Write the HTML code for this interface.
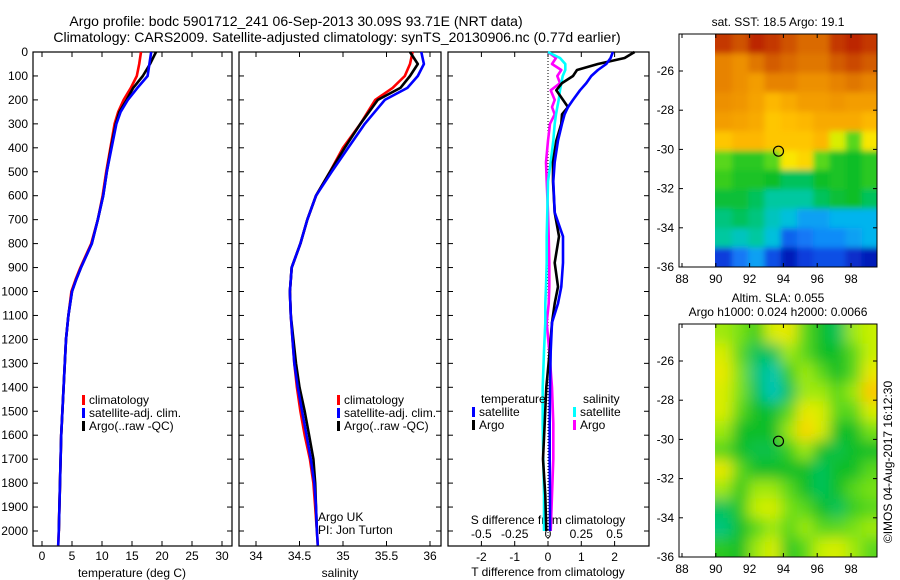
<!DOCTYPE html>
<html><head><meta charset="utf-8">
<style>
html,body{margin:0;padding:0;background:#fff;}
svg{display:block;font-family:"Liberation Sans",sans-serif;}
</style></head>
<body>
<svg id="chart" width="900" height="580" viewBox="0 0 900 580">
<defs>
<filter id="blurS" x="-10%" y="-10%" width="120%" height="120%"><feGaussianBlur stdDeviation="3"/></filter>
<filter id="blurL" x="-10%" y="-10%" width="120%" height="120%"><feGaussianBlur stdDeviation="7"/></filter>
<clipPath id="clipTop"><rect x="715" y="34" width="162" height="233"/></clipPath>
<clipPath id="clipBot"><rect x="715" y="324" width="162" height="233"/></clipPath>
</defs>
</svg>
<script>
// ---------- data ----------
const tDepths=[0,50,100,150,200,250,300,400,500,600,700,800,900,950,1000,1100,1200,1300,1400,1600,1800,2000,2060];
const tClim=[16.5,16.2,15.8,14.8,13.6,12.7,12.1,11.4,10.7,10.1,9.3,8.2,6.4,5.6,4.9,4.4,4.0,3.8,3.6,3.2,3.0,2.8,2.7];
const tSat=[18.2,17.9,17.6,15.9,14.3,13.1,12.4,11.6,10.8,10.2,9.3,8.3,6.5,5.7,5.0,4.4,4.0,3.8,3.6,3.2,3.0,2.8,2.7];
const tArgo=[19.0,18.0,16.8,15.2,14.1,12.9,12.3,11.5,10.8,10.2,9.3,8.3,6.5,5.7,5.0,4.4,4.0,3.8,3.6,3.2,3.0,2.8];
const sDepths=[0,50,100,150,200,300,400,500,600,700,800,900,1000,1100,1200,1300,1400,1500,1600,1700,1800,1900,2000,2060];
const sClim=[35.80,35.77,35.71,35.57,35.37,35.20,35.00,34.85,34.69,34.59,34.51,34.41,34.39,34.40,34.42,34.44,34.47,34.51,34.56,34.62,34.66,34.68,34.70,34.71];
const sSat=[35.90,35.93,35.86,35.74,35.48,35.25,35.06,34.87,34.69,34.59,34.51,34.41,34.39,34.40,34.42,34.44,34.48,34.53,34.58,34.63,34.67,34.69,34.70,34.71];
const sArgo=[35.77,35.86,35.77,35.66,35.40,35.20,35.02,34.85,34.69,34.59,34.51,34.41,34.39,34.40,34.43,34.46,34.50,34.56,34.61,34.66,34.68,34.69,34.70];
const dDepths=[0,25,50,75,100,130,160,200,230,260,300,370,460,540,670,770,880,980,1050,1130,1250,1400,1550,1700,1850,2000];
const dTSat=[1.95,1.88,1.75,1.5,1.3,1.15,0.96,0.75,0.6,0.5,0.42,0.3,0.2,0.16,0.2,0.45,0.45,0.4,0.3,0.12,0.08,0.06,0.05,0.05,0.06,0.06];
const dTArgo=[2.6,2.3,1.5,0.87,0.75,0.42,0.25,0.45,0.6,0.42,0.4,0.25,0.15,0.15,0.2,0.33,0.2,0.3,0.2,0.12,0.05,-0.05,-0.1,-0.15,-0.08,-0.05];
const dSSat=[0,0.09,0.13,0.13,0.11,0.1,0.09,0.08,0.07,0.06,0.05,0.04,0.02,0,-0.005,-0.01,-0.01,-0.015,-0.02,-0.02,-0.03,-0.04,-0.04,-0.035,-0.03,-0.03];
const dSArgo=[0,0.06,0.03,0.1,0.07,0.09,0.02,0.05,0.03,0.05,0.015,0,-0.015,-0.01,0,0.005,0.01,0.01,0.005,-0.01,0.01,0.03,0.04,0.04,0.03,0.02];
const depthTicks=[0,100,200,300,400,500,600,700,800,900,1000,1100,1200,1300,1400,1500,1600,1700,1800,1900,2000];
const tTicks=[0,5,10,15,20,25,30];
const sTicks=[34,34.5,35,35.5,36];
const dTTicks=[-2,-1,0,1,2];
const dSTicks=[-0.5,-0.25,0,0.25,0.5];
const dSTickLabels=["-0.5","-0.25","0","0.25","0.5"];
const mapLatTicks=[-26,-28,-30,-32,-34,-36];
const mapLonTicks=[88,90,92,94,96,98];
const argoLon=93.71, argoLat=-30.09;
const sstGrid=[
[0.88,0.85,0.9,0.88,0.85,0.82,0.82,0.88,0.9,0.88],
[0.78,0.76,0.8,0.84,0.82,0.8,0.8,0.84,0.86,0.84],
[0.78,0.76,0.74,0.78,0.78,0.76,0.76,0.78,0.8,0.78],
[0.76,0.75,0.73,0.7,0.72,0.74,0.74,0.75,0.74,0.74],
[0.74,0.73,0.72,0.68,0.69,0.7,0.72,0.72,0.72,0.7],
[0.68,0.7,0.7,0.68,0.68,0.68,0.7,0.6,0.5,0.64],
[0.5,0.47,0.47,0.5,0.64,0.66,0.5,0.46,0.45,0.47],
[0.48,0.46,0.46,0.45,0.42,0.42,0.45,0.46,0.45,0.47],
[0.44,0.44,0.42,0.38,0.38,0.38,0.42,0.44,0.45,0.42],
[0.4,0.42,0.4,0.36,0.34,0.3,0.3,0.32,0.32,0.32],
[0.38,0.36,0.38,0.34,0.24,0.26,0.28,0.28,0.3,0.32],
[0.2,0.26,0.3,0.22,0.16,0.2,0.22,0.22,0.18,0.16]];
const slaGrid=[
[0.55,0.52,0.48,0.6,0.62,0.5,0.45,0.42,0.55,0.58],
[0.6,0.5,0.42,0.42,0.55,0.5,0.45,0.45,0.5,0.58],
[0.62,0.52,0.4,0.37,0.48,0.55,0.5,0.45,0.5,0.62],
[0.6,0.52,0.42,0.36,0.42,0.55,0.55,0.5,0.55,0.68],
[0.6,0.5,0.45,0.44,0.5,0.62,0.6,0.5,0.5,0.6],
[0.55,0.45,0.45,0.45,0.55,0.66,0.6,0.45,0.45,0.52],
[0.5,0.45,0.43,0.43,0.48,0.55,0.45,0.43,0.45,0.45],
[0.62,0.5,0.45,0.45,0.45,0.45,0.42,0.45,0.45,0.5],
[0.55,0.47,0.55,0.55,0.5,0.45,0.42,0.45,0.5,0.52],
[0.42,0.47,0.58,0.6,0.52,0.5,0.45,0.42,0.48,0.5],
[0.4,0.45,0.5,0.55,0.5,0.55,0.5,0.5,0.52,0.55],
[0.47,0.45,0.55,0.6,0.47,0.5,0.58,0.6,0.55,0.5]];

// ---------- helpers ----------
const NS="http://www.w3.org/2000/svg";
const svg=document.getElementById('chart');
function el(tag,attrs,parent){const e=document.createElementNS(NS,tag);for(const k in attrs)e.setAttribute(k,attrs[k]);(parent||svg).appendChild(e);return e;}
function txt(x,y,s,size,anchor,parent){const t=el('text',{x:x,y:y,'font-size':size||12,'text-anchor':anchor||'start',fill:'#000'},parent);t.textContent=s;return t;}
const top0=52, bottom0=546;
const yD=d=>top0+d*0.2395;
function lin(d0,r0,d1,r1){return v=>r0+(v-d0)*(r1-r0)/(d1-d0);}

function panel(name,x0,x1){
  const g=el('g',{});
  
  
  el('rect',{x:x0,y:top0,width:x1-x0,height:bottom0-top0,fill:'#fff',stroke:'#000','stroke-width':1.2},g);
  return g;
}
function line(g,xs,ds,xf,color,name,w){
  let p='';for(let i=0;i<xs.length;i++)p+=(i?'L':'M')+xf(xs[i]).toFixed(1)+','+yD(ds[i]).toFixed(1);
  const e=el('path',{d:p,fill:'none',stroke:color,'stroke-width':w||2.6,'stroke-linejoin':'round'},g);
  
  
}
function depthTickMarks(g,x0,x1,labels){
  depthTicks.forEach(d=>{const y=yD(d);
    el('line',{x1:x0,y1:y,x2:x0+5,y2:y,stroke:'#000'},g);
    el('line',{x1:x1,y1:y,x2:x1-5,y2:y,stroke:'#000'},g);
    if(labels){txt(x0-5,y+4,String(d),12,'end',g);}
  });
}
function xTicks(g,vals,labs,xf,lblY){
  vals.forEach((v,i)=>{const x=xf(v);
    el('line',{x1:x,y1:top0,x2:x,y2:top0+5,stroke:'#000'},g);
    el('line',{x1:x,y1:bottom0,x2:x,y2:bottom0-5,stroke:'#000'},g);
    if(lblY)txt(x,lblY,labs[i],12,'middle',g);
  });
}
function legend(g,x,y,items){
  items.forEach((it,i)=>{
    const r=el('rect',{x:x,y:y+i*13-9,width:3,height:10,fill:it[0]},g);
    
    
    const t=txt(x+7,y+i*13,it[1],12,'start',g);
    
    
  });
}

// ---------- title ----------
const t1=txt(296,26,'Argo profile: bodc 5901712_241 06-Sep-2013 30.09S 93.71E (NRT data)',14,'middle');

const t2=txt(337,42,'Climatology: CARS2009. Satellite-adjusted climatology: synTS_20130906.nc (0.77d earlier)',14,'middle');


// ---------- panel 1: temperature ----------
const xT=lin(0,42,30,222);
const g1=panel('temperature-panel',33,232);
depthTickMarks(g1,33,232,true);
xTicks(g1,tTicks,tTicks.map(String),xT,560);
line(g1,tClim,tDepths,xT,'#f00','temperature-climatology-line');
line(g1,tArgo,tDepths.slice(0,tArgo.length),xT,'#000','temperature-argo-line');
line(g1,tSat,tDepths,xT,'#00f','temperature-satellite-line');
legend(g1,82,404,[['#f00','climatology','climatology'],['#00f','satellite-adj. clim.','satellite'],['#000','Argo(..raw -QC)','argo']]);
const xl1=txt(132,577,'temperature (deg C)',12,'middle',g1);

// ---------- panel 2: salinity ----------
const xS=lin(34,256,36,430);
const g2=panel('salinity-panel',239,441);
depthTickMarks(g2,239,441,false);
xTicks(g2,sTicks,sTicks.map(String),xS,560);
line(g2,sClim,sDepths,xS,'#f00','salinity-climatology-line');
line(g2,sArgo,sDepths.slice(0,sArgo.length),xS,'#000','salinity-argo-line');
line(g2,sSat,sDepths,xS,'#00f','salinity-satellite-line');
legend(g2,337,404,[['#f00','climatology','climatology'],['#00f','satellite-adj. clim.','satellite'],['#000','Argo(..raw -QC)','argo']]);
txt(318,521,'Argo UK',12,'start',g2);
txt(318,534,'PI: Jon Turton',12,'start',g2);
const xl2=txt(340,577,'salinity',12,'middle',g2);

// ---------- panel 3: differences ----------
const xDT=lin(0,548,1,581.3);
const xDS=lin(0,548,0.25,581.3);
const g3=panel('difference-panel',448,649);
depthTickMarks(g3,448,649,false);
xTicks(g3,dTTicks,dTTicks.map(String),xDT,561);
el('line',{x1:548,y1:top0,x2:548,y2:bottom0,stroke:'#000','stroke-dasharray':'1,2'},g3);
dSTicks.forEach((v,i)=>{txt(xDS(v),538,dSTickLabels[i],12,'middle',g3);});
txt(548,524,'S difference from climatology',12,'middle',g3);
line(g3,dSArgo,dDepths,xDS,'#f0f','salinity-argo-difference-line');
line(g3,dSSat,dDepths,xDS,'#0ff','salinity-satellite-difference-line');
line(g3,dTArgo,dDepths,xDT,'#000','temperature-argo-difference-line');
line(g3,dTSat,dDepths,xDT,'#00f','temperature-satellite-difference-line');
txt(481,403,'temperature',12,'start',g3);
txt(583,403,'salinity',12,'start',g3);
legend(g3,472,416,[['#00f','satellite','t-satellite'],['#000','Argo','t-argo']]);
legend(g3,573,416,[['#0ff','satellite','s-satellite'],['#f0f','Argo','s-argo']]);
const xl3=txt(548,576,'T difference from climatology',12,'middle',g3);

// ---------- maps ----------
const cmapStops=[[0.12,[0,0,150]],[0.2,[10,60,220]],[0.27,[20,130,250]],[0.33,[0,190,235]],[0.38,[0,200,160]],[0.45,[10,190,40]],[0.52,[120,225,20]],[0.58,[200,240,0]],[0.64,[250,230,0]],[0.69,[255,190,0]],[0.75,[240,150,0]],[0.83,[215,100,0]],[0.92,[180,20,0]]];
function cmap(v){
  if(v<=cmapStops[0][0])return 'rgb('+cmapStops[0][1].join(',')+')';
  for(let i=1;i<cmapStops.length;i++){
    if(v<=cmapStops[i][0]){const a=cmapStops[i-1],b=cmapStops[i];const f=(v-a[0])/(b[0]-a[0]);
      return 'rgb('+a[1].map((c,k)=>Math.round(c+f*(b[1][k]-c))).join(',')+')';}
  }
  return 'rgb('+cmapStops[cmapStops.length-1][1].join(',')+')';
}
function map(name,y0,y1,grid,clipId,filt){
  const g=el('g',{});
  
  
  const lx=lin(88,682,98,851);
  const ly=lin(-36,y1,-26,y1-(267-71));
  el('rect',{x:679,y:y0,width:198,height:y1-y0,fill:'#fff'},g);
  const clipG=el('g',{'clip-path':'url(#'+clipId+')'},g);
  const cells=el('g',{filter:'url(#'+filt+')'},clipG);
  const nr=grid.length,nc=grid[0].length;
  const lonA=90,lonB=99.6;
  const x0=lx(lonA);
  const cw=(lx(lonB)-x0)/nc;
  const ch=(y1-y0)/nr;
  const pad=20;
  for(let r=0;r<nr;r++)for(let c=0;c<nc;c++){
    let cx=x0+c*cw, cy=y0+r*ch, w=cw+0.6, h=ch+0.6;
    if(c===0){cx-=pad;w+=pad;} if(c===nc-1){w+=pad;}
    if(r===0){cy-=pad;h+=pad;} if(r===nr-1){h+=pad;}
    const cell=el('rect',{x:cx.toFixed(2),y:cy.toFixed(2),width:w.toFixed(2),height:h.toFixed(2),fill:cmap(grid[r][c])},cells);
    
    
  }
  el('rect',{x:679,y:y0,width:198,height:y1-y0,fill:'none',stroke:'#000','stroke-width':1},g);
  mapLatTicks.forEach(v=>{const y=ly(v);
    el('line',{x1:679,y1:y,x2:683,y2:y,stroke:'#000'},g);
    el('line',{x1:877,y1:y,x2:873,y2:y,stroke:'#000'},g);
    txt(674,y+4,String(v),12,'end',g);});
  mapLonTicks.forEach(v=>{const x=lx(v);
    el('line',{x1:x,y1:y0,x2:x,y2:y0+4,stroke:'#000'},g);
    el('line',{x1:x,y1:y1,x2:x,y2:y1-4,stroke:'#000'},g);
    txt(x,y1+16,String(v),12,'middle',g);});
  const mk=el('circle',{cx:lx(argoLon),cy:ly(argoLat),r:5,fill:'none',stroke:'#000','stroke-width':1.2},g);
  
  
}
map('sst-map',34,267,sstGrid,'clipTop','blurS');
map('sla-map',324,557,slaGrid,'clipBot','blurL');
const m1=txt(778,26,'sat. SST: 18.5 Argo: 19.1',12,'middle');
const m2=txt(778,302,'Altim. SLA: 0.055',12,'middle');
txt(778,316,'Argo h1000: 0.024 h2000: 0.0066',12,'middle');
const cr=txt(0,0,'©IMOS 04-Aug-2017 16:12:30',12,'middle');
cr.setAttribute('transform','translate(892,462) rotate(-90)');


</script>
</body></html>
